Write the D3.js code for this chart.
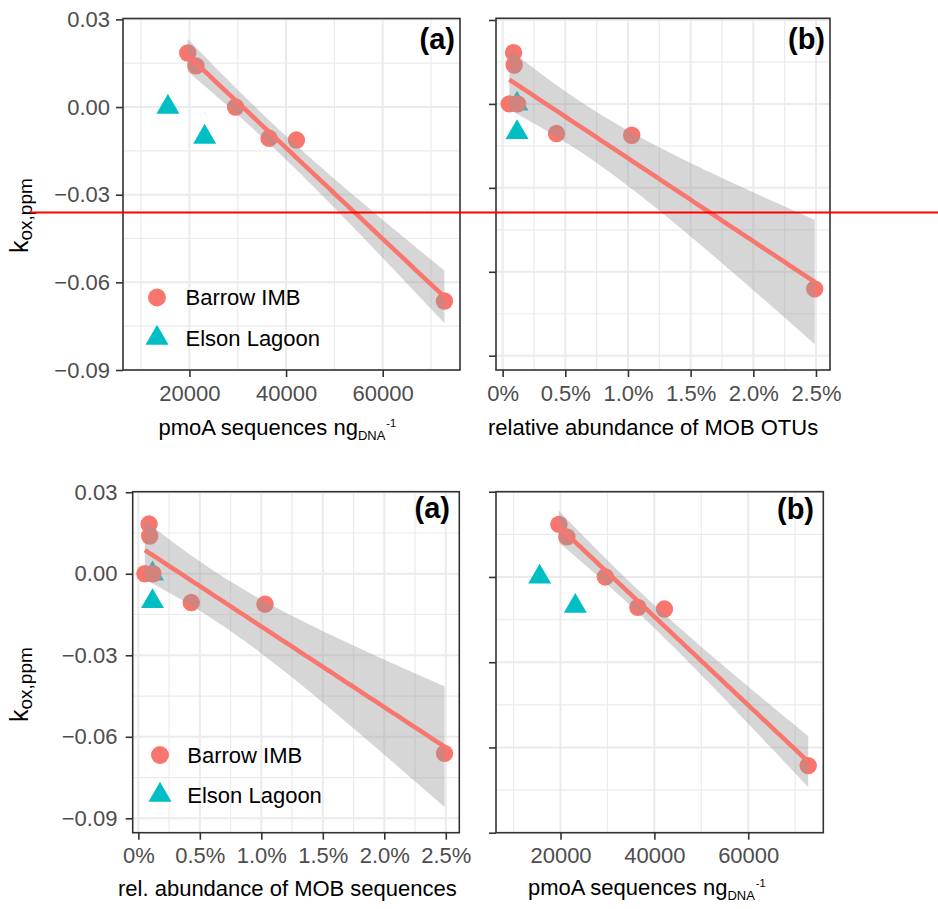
<!DOCTYPE html>
<html><head><meta charset="utf-8">
<script src="https://cdn.jsdelivr.net/npm/d3@7"></script>
<style>
body{margin:0;background:#fff}
svg{display:block}
text{font-family:Arial,"Liberation Sans",Helvetica,sans-serif}
</style>
</head><body>
<svg id="c" width="938" height="909"></svg>
<script>
// ---------- data ----------
const pmoaBarrowX = [19650, 21350, 29550, 36480, 42150, 72780];
const pmoaBarrowY = [0.0185, 0.0141, 0.0, -0.0107, -0.0113, -0.0664];
const pmoaElsonX  = [15550, 23150];
const pmoaElsonY  = [0.0, -0.0103];

const relBarrowX = [0.087, 0.092, 0.053, 0.119, 0.43, 1.03, 2.49];   // percent
const relBarrowY = [0.0183, 0.0139, 0.0, 0.0, -0.0106, -0.0112, -0.0661];
const relElsonX  = [0.115, 0.115];
const relElsonY  = [0.0, -0.0102];

const yTicks = [0.03, 0.00, -0.03, -0.06, -0.09];
const pmoaTicks = [20000, 40000, 60000];
const relTicks = [0, 0.5, 1.0, 1.5, 2.0, 2.5];
const relTickLabels = ["0%", "0.5%", "1.0%", "1.5%", "2.0%", "2.5%"];
const seriesNames = ["Barrow IMB", "Elson Lagoon"];
const panelLabels = ["(a)", "(b)", "(a)", "(b)"];
const xTitleRelTop = "relative abundance of MOB OTUs";
const xTitleRelBottom = "rel. abundance of MOB sequences";

// ---------- styles ----------
const RED = "#F8766D", CYAN = "#00BFC4";
const svg = d3.select("#c");

// t quantiles (0.975) by degrees of freedom
const tQ = {3: 3.182, 4: 2.776, 5: 2.571, 6: 2.447};

function fitLM(xs, ys) {
  const n = xs.length;
  const mx = d3.mean(xs), my = d3.mean(ys);
  let sxx = 0, sxy = 0;
  for (let i = 0; i < n; i++) { sxx += (xs[i]-mx)**2; sxy += (xs[i]-mx)*(ys[i]-my); }
  const b = sxy / sxx, a = my - b*mx;
  let sse = 0;
  for (let i = 0; i < n; i++) sse += (ys[i] - (a + b*xs[i]))**2;
  const s = Math.sqrt(sse / (n-2));
  const t = tQ[n-2];
  const [lo, hi] = d3.extent(xs);
  return d3.range(81).map(i => {
    const x = lo + (hi-lo)*i/80;
    const yh = a + b*x;
    const se = s*Math.sqrt(1/n + (x-mx)**2/sxx);
    return {x, y: yh, lo: yh - t*se, hi: yh + t*se};
  });
}

const panels = [
  {x0:123, x1:460, y0:18.5, y1:370, xdom:[6250,76000], ydom:[-0.09,0.0303], kind:"pmoa",
   ylab:true, ypad:6, xpad:8.5, lab:panelLabels[0], lx:455, ly:49,
   legend:{cx:157, cy1:297.5, cy2:338, tx:185.5, tb1:305, tb2:345.5},
   xtitle:{x:158.5, y:435}, ytitle:{x:28, y:253}},
  {x0:496, x1:830, y0:18.3, y1:370, xdom:[-0.053,2.612], ydom:[-0.0951,0.0306], kind:"rel",
   ylab:false, ypad:6, xpad:8.5, lab:panelLabels[1], lx:825, ly:49,
   xtitle:{x:488, y:435, text:xTitleRelTop}},
  {x0:132.7, x1:459.3, y0:491.7, y1:832.7, xdom:[-0.046,2.61], ydom:[-0.0953,0.0302], kind:"rel",
   ylab:true, ypad:8.3, xpad:7.5, lab:panelLabels[2], lx:450, ly:518,
   legend:{cx:160, cy1:755, cy2:795, tx:187.3, tb1:763, tb2:802.5},
   xtitle:{x:118, y:896, text:xTitleRelBottom}, ytitle:{x:28, y:722}},
  {x0:496, x1:823.3, y0:491.7, y1:832.7, xdom:[6250,76000], ydom:[-0.09,0.03], kind:"pmoa",
   ylab:false, ypad:6, xpad:7.5, lab:panelLabels[3], lx:814, ly:519,
   xtitle:{x:528, y:895}}
];

function minors(ticks, dom) {
  const t = ticks.slice().sort((a,b)=>a-b);
  const step = t[1]-t[0];
  const out = [];
  for (let i = -1; i < t.length; i++) {
    const m = (i < 0 ? t[0] - step/2 : t[i] + step/2);
    if (m >= Math.min(...dom) && m <= Math.max(...dom)) out.push(m);
  }
  return out;
}

const tri = d3.symbol().type(d3.symbolTriangle).size(229);

panels.forEach(p => {
  const x = d3.scaleLinear().domain(p.xdom).range([p.x0, p.x1]);
  const y = d3.scaleLinear().domain(p.ydom).range([p.y1, p.y0]);
  const xt = p.kind === "pmoa" ? pmoaTicks : relTicks;
  const bx = p.kind === "pmoa" ? pmoaBarrowX : relBarrowX;
  const by = p.kind === "pmoa" ? pmoaBarrowY : relBarrowY;
  const ex = p.kind === "pmoa" ? pmoaElsonX : relElsonX;
  const ey = p.kind === "pmoa" ? pmoaElsonY : relElsonY;
  const g = svg.append("g");

  // grid
  const grid = g.append("g");
  minors(xt, p.xdom).forEach(v => grid.append("line").attr("x1", x(v)).attr("x2", x(v))
    .attr("y1", p.y0).attr("y2", p.y1).attr("stroke", "#EBEBEB").attr("stroke-width", 1.2));
  minors(yTicks, p.ydom).forEach(v => grid.append("line").attr("y1", y(v)).attr("y2", y(v))
    .attr("x1", p.x0).attr("x2", p.x1).attr("stroke", "#EBEBEB").attr("stroke-width", 1.2));
  xt.forEach(v => grid.append("line").attr("x1", x(v)).attr("x2", x(v))
    .attr("y1", p.y0).attr("y2", p.y1).attr("stroke", "#EBEBEB").attr("stroke-width", 2));
  yTicks.forEach(v => grid.append("line").attr("y1", y(v)).attr("y2", y(v))
    .attr("x1", p.x0).attr("x2", p.x1).attr("stroke", "#EBEBEB").attr("stroke-width", 2));

  // points: Elson then Barrow
  g.append("g").selectAll("path").data(ex.map((v,i)=>[v, ey[i]])).join("path")
    .attr("d", tri).attr("transform", d => `translate(${x(d[0])},${y(d[1])})`).attr("fill", CYAN);
  g.append("g").selectAll("circle").data(bx.map((v,i)=>[v, by[i]])).join("circle")
    .attr("cx", d => x(d[0])).attr("cy", d => y(d[1])).attr("r", 8.7).attr("fill", RED);

  // smooth
  const fit = fitLM(bx, by);
  g.append("path").datum(fit).attr("fill", "#999999").attr("fill-opacity", 0.4)
    .attr("d", d3.area().x(d => x(d.x)).y0(d => y(d.lo)).y1(d => y(d.hi)));
  g.append("path").datum(fit).attr("fill", "none").attr("stroke", RED).attr("stroke-width", 4.5)
    .attr("d", d3.line().x(d => x(d.x)).y(d => y(d.y)));

  // border
  g.append("rect").attr("x", p.x0).attr("y", p.y0).attr("width", p.x1-p.x0).attr("height", p.y1-p.y0)
    .attr("fill", "none").attr("stroke", "#333333").attr("stroke-width", 1.6);

  // axes
  const yAx = d3.axisLeft(y).tickValues(yTicks).tickSize(7).tickPadding(p.ypad)
    .tickFormat(p.ylab ? d3.format(".2f") : () => "");
  const ga = g.append("g").attr("transform", `translate(${p.x0},0)`).call(yAx);
  const xAx = d3.axisBottom(x).tickValues(xt).tickSize(7).tickPadding(p.xpad)
    .tickFormat(p.kind === "pmoa" ? d3.format("d") : (d,i) => relTickLabels[i]);
  const gb = g.append("g").attr("transform", `translate(0,${p.y1})`).call(xAx);
  [ga, gb].forEach(a => {
    a.select(".domain").remove();
    a.selectAll(".tick line").attr("stroke", "#333333").attr("stroke-width", 1.6);
    a.selectAll(".tick text").attr("fill", "#4D4D4D").style("font-size", "22px")
      .style("font-family", 'Arial,"Liberation Sans",Helvetica,sans-serif');
  });

  // panel label
  g.append("text").attr("x", p.lx).attr("y", p.ly).attr("text-anchor", "end")
    .attr("font-weight", "bold").attr("font-size", 29).text(p.lab);

  // legend
  if (p.legend) {
    const L = p.legend;
    g.append("circle").attr("cx", L.cx).attr("cy", L.cy1).attr("r", 9).attr("fill", RED);
    g.append("path").attr("d", tri).attr("transform", `translate(${L.cx},${L.cy2})`).attr("fill", CYAN);
    g.append("text").attr("x", L.tx).attr("y", L.tb1).attr("font-size", 22).text(seriesNames[0]);
    g.append("text").attr("x", L.tx).attr("y", L.tb2).attr("font-size", 22).text(seriesNames[1]);
  }

  // x title
  const T = p.xtitle;
  if (p.kind === "pmoa") {
    const t = g.append("text").attr("x", T.x).attr("y", T.y).attr("font-size", 22);
    t.append("tspan").text("pmoA sequences ng");
    t.append("tspan").attr("font-size", 13).attr("dy", 5).text("DNA");
    t.append("tspan").attr("font-size", 11).attr("dy", -13).attr("dx", 1).text("-1");
  } else {
    g.append("text").attr("x", T.x).attr("y", T.y).attr("font-size", 22).text(T.text);
  }

  // y title
  if (p.ytitle) {
    const t = g.append("text").attr("transform", `translate(${p.ytitle.x},${p.ytitle.y}) rotate(-90)`)
      .attr("font-size", 25);
    t.append("tspan").text("k");
    t.append("tspan").attr("font-size", 19).attr("dy", 4).text("ox,ppm");
  }
});

// red horizontal line present in the reference image
svg.append("line").attr("x1", 30).attr("x2", 938).attr("y1", 212.5).attr("y2", 212.5)
  .attr("stroke", "#FF0000").attr("stroke-width", 2);
</script>
</body></html>
